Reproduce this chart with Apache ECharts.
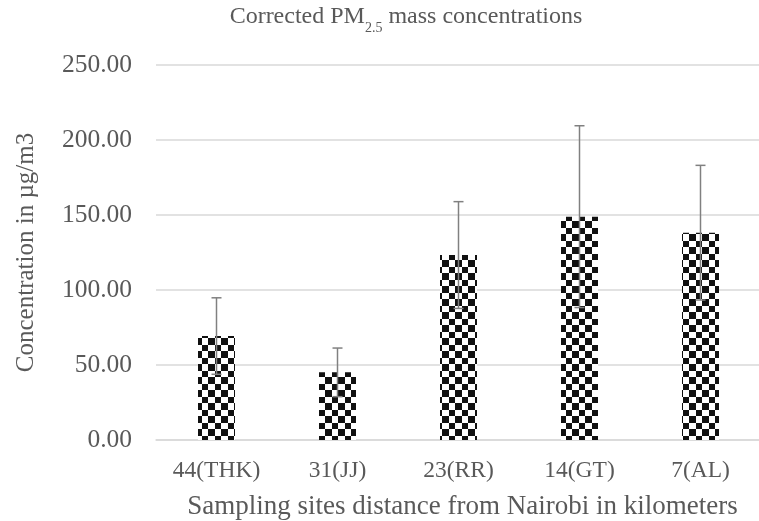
<!DOCTYPE html>
<html>
<head>
<meta charset="utf-8">
<script src="https://cdn.jsdelivr.net/npm/echarts@6/dist/echarts.min.js"></script>
<style>html,body{margin:0;padding:0;background:#fff;}#c{width:759px;height:521px;}</style>
</head>
<body>
<div id="c"></div>
<script>
const categories = ['44(THK)', '31(JJ)', '23(RR)', '14(GT)', '7(AL)'];
const concentration = [69.3, 45.1, 123.3, 148.9, 138.2];
const errorAmount = [25.5, 16.2, 35.6, 60.6, 44.9];

function checker() {
  const c = document.createElement('canvas');
  c.width = 13; c.height = 13;
  const ctx = c.getContext('2d');
  ctx.fillStyle = '#ffffff';
  ctx.fillRect(0, 0, 13, 13);
  ctx.fillStyle = '#111111';
  ctx.fillRect(0, 0, 7, 7);
  ctx.fillRect(7, 7, 6, 6);
  return c;
}

const errData = categories.map((c, i) => [i, concentration[i] - errorAmount[i], concentration[i] + errorAmount[i]]);
const font = '"Liberation Serif", "Times New Roman", serif';
const grey = '#595959';

const chart = echarts.init(document.getElementById('c'));
chart.setOption({
  animation: false,
  title: {
    text: '{a|Corrected PM}{b|2.5}{a| mass concentrations}',
    left: 401, top: -4, textAlign: 'center',
    textStyle: {
      fontWeight: 'normal',
      rich: {
        a: {fontFamily: font, fontSize: 24, fontWeight: 'normal', color: grey, lineHeight: 28, verticalAlign: 'bottom'},
        b: {fontFamily: font, fontSize: 14, fontWeight: 'normal', color: grey, lineHeight: 20, verticalAlign: 'bottom', padding: [0, 0, -6, 0]}
      }
    }
  },
  grid: {left: 156, top: 65, width: 605, height: 375, outerBoundsMode: 'none', containLabel: false},
  xAxis: {
    type: 'category', data: categories,
    axisLine: {lineStyle: {color: '#d9d9d9', width: 1.5}},
    axisTick: {show: false},
    axisLabel: {fontFamily: font, fontSize: 23.5, color: grey, margin: 19},
    name: 'Sampling sites distance from Nairobi in kilometers',
    nameLocation: 'middle', nameGap: 53,
    nameTextStyle: {fontFamily: font, fontSize: 27, color: grey, padding: [0, 0, 0, 8]}
  },
  yAxis: {
    type: 'value', min: 0, max: 250, interval: 50,
    axisLine: {show: false}, axisTick: {show: false},
    splitLine: {lineStyle: {color: '#d9d9d9', width: 1.5}},
    axisLabel: {fontFamily: font, fontSize: 25.5, color: grey, margin: 24, formatter: v => v.toFixed(2)},
    name: 'Concentration in µg/m3', nameLocation: 'middle', nameGap: 117,
    nameTextStyle: {fontFamily: font, fontSize: 25, color: grey}
  },
  series: [
    {
      type: 'bar', data: concentration, barWidth: 37,
      itemStyle: {color: {image: checker(), repetition: 'repeat'}}
    },
    {
      type: 'custom', data: errData, z: 10,
      renderItem: function (params, api) {
        const x = api.value(0);
        const lo = api.coord([x, api.value(1)]);
        const hi = api.coord([x, api.value(2)]);
        const hw = 5;
        const st = {stroke: '#808080', lineWidth: 1.5};
        return {
          type: 'group',
          children: [
            {type: 'line', shape: {x1: hi[0], y1: hi[1], x2: lo[0], y2: lo[1]}, style: st},
            {type: 'line', shape: {x1: hi[0] - hw, y1: hi[1], x2: hi[0] + hw, y2: hi[1]}, style: st},
            {type: 'line', shape: {x1: lo[0] - hw, y1: lo[1], x2: lo[0] + hw, y2: lo[1]}, style: st}
          ]
        };
      }
    }
  ]
});
</script>
</body>
</html>
